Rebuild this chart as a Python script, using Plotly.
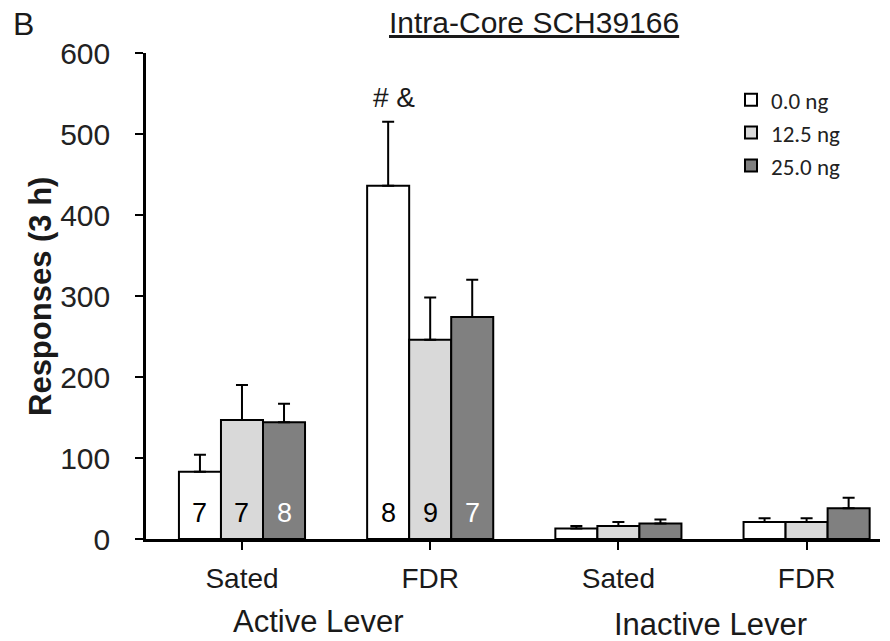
import plotly.graph_objects as go

groups = ["Sated", "FDR", "Sated", "FDR"]
doses = ["0.0 ng", "12.5 ng", "25.0 ng"]
means = {
    "0.0 ng": [83, 436, 13, 21],
    "12.5 ng": [147, 246, 16, 21],
    "25.0 ng": [144, 274, 19, 38],
}
sems = {
    "0.0 ng": [21, 79, 3, 4.5],
    "12.5 ng": [43, 52, 5, 4.5],
    "25.0 ng": [23, 46, 5, 13],
}
ns = {
    "0.0 ng": ["7", "8", "", ""],
    "12.5 ng": ["7", "9", "", ""],
    "25.0 ng": ["8", "7", "", ""],
}
colors = {"0.0 ng": "#ffffff", "12.5 ng": "#d9d9d9", "25.0 ng": "#808080"}
ncolors = {"0.0 ng": "black", "12.5 ng": "black", "25.0 ng": "white"}
lever_labels = ["Active Lever", "Inactive Lever"]
xpos = [0, 1, 2, 3]

BARGAP = 0.33
W, H = 890, 641
L, R, T, B = 146, 10, 53, 102
pw, ph = W - L - R, H - T - B

fig = go.Figure()
for d in doses:
    fig.add_trace(go.Bar(
        x=xpos, y=means[d], name=d,
        marker=dict(color=colors[d], line=dict(color="black", width=2)),
        error_y=dict(type="data", symmetric=False, array=sems[d],
                     arrayminus=[0] * 4, color="black", thickness=2, width=6),
    ))

fig.update_layout(
    width=W, height=H,
    margin=dict(l=L, r=R, t=T, b=B),
    plot_bgcolor="white", paper_bgcolor="white",
    barmode="group", bargap=BARGAP, bargroupgap=0,
    font=dict(family="Liberation Sans, Arial", color="#1a1a1a"),
    showlegend=True,
    legend=dict(x=0.797, y=0.948, xanchor="left", yanchor="top",
                font=dict(family="Carlito, Lato, sans-serif", size=23, color="#222"),
                bgcolor="rgba(0,0,0,0)", itemwidth=30, tracegroupgap=0),
    xaxis=dict(range=[-0.51, 3.39], tickmode="array", tickvals=xpos, ticktext=groups,
               showline=True, linecolor="black", linewidth=2.5,
               ticks="outside", ticklen=8, tickwidth=2, tickcolor="black",
               ticklabelstandoff=5,
               tickfont=dict(size=28), showgrid=False, zeroline=False),
    yaxis=dict(range=[0, 600], tickvals=[0, 100, 200, 300, 400, 500, 600],
               showline=True, linecolor="black", linewidth=2.5,
               ticks="outside", ticklen=8, tickwidth=2, tickcolor="black",
               ticklabelstandoff=19,
               tickfont=dict(size=30, color="#222"), showgrid=False, zeroline=False),
)

def px(xp, yp):
    return (xp - L) / pw, (H - B - yp) / ph

# n labels inside bars
bw = (1 - BARGAP) / len(doses)
for k, d in enumerate(doses):
    for i, t in enumerate(ns[d]):
        if t:
            fig.add_annotation(text=t, x=xpos[i] + (k - 1) * bw, y=32, xref="x", yref="y",
                               xanchor="center", yanchor="middle", showarrow=False,
                               font=dict(size=27, color=ncolors[d]))

anns = [
    dict(text="<u>Intra-Core SCH39166</u>", xp=534, yp=22, size=30, angle=0),
    dict(text="B", xp=23, yp=24, size=32, angle=0),
    dict(text="# &", xp=394, yp=97, size=28, angle=0),
    dict(text=lever_labels[0], xp=318, yp=621, size=31, angle=0),
    dict(text=lever_labels[1], xp=710, yp=624, size=31, angle=0),
    dict(text="<b>Responses (3 h)</b>", xp=40, yp=297, size=31, angle=-90),
]
for a in anns:
    xx, yy = px(a["xp"], a["yp"])
    fig.add_annotation(text=a["text"], x=xx, y=yy, xref="paper", yref="paper",
                       xanchor="center", yanchor="middle",
                       showarrow=False, textangle=a["angle"],
                       font=dict(size=a["size"], color="#1a1a1a"))

fig.write_html("out.html", config={"displayModeBar": False},
               post_script="document.body.style.margin='0px';document.body.style.overflow='hidden';")
